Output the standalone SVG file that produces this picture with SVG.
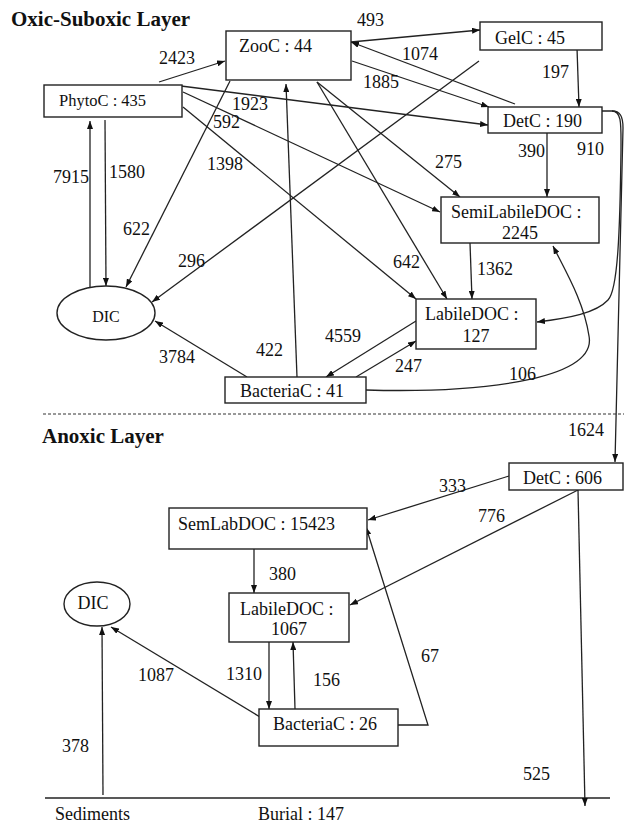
<svg xmlns="http://www.w3.org/2000/svg" width="624" height="823" viewBox="0 0 624 823">
<style>
text{font-family:"Liberation Serif","Times New Roman",serif;font-size:18px;fill:#111}
.t{font-weight:bold;font-size:21px}
.n rect,.n ellipse{fill:#fff;stroke:#222;stroke-width:1.4}
#edges path,#edges line{fill:none;stroke:#222;stroke-width:1.3}
.a{marker-end:url(#ah)}
.m{text-anchor:middle}
</style>
<defs>
<marker id="ah" viewBox="0 0 8 6" refX="8" refY="3" markerWidth="8" markerHeight="6" orient="auto" markerUnits="userSpaceOnUse"><path d="M0,0 L8,3 L0,6 z" fill="#111"/></marker>
</defs>
<rect width="624" height="823" fill="#fff"/>
<text class="t" x="11" y="26">Oxic-Suboxic Layer</text>
<text class="t" x="42" y="443">Anoxic Layer</text>
<line x1="43" y1="414" x2="624" y2="414" stroke="#333" stroke-width="1" stroke-dasharray="3,2"/>
<line x1="45" y1="798" x2="610" y2="798" stroke="#222" stroke-width="1.3"/>
<text x="55" y="820">Sediments</text>
<text x="258" y="820">Burial :  147</text>
<g id="edges">
<path class="a" d="M159,82 L225,61"/>
<path class="a" d="M351,42 L480,30"/>
<path class="a" d="M515,104 L351,42"/>
<path class="a" d="M352,61 L489,107"/>
<path class="a" d="M577,48 L579,107"/>
<path class="a" d="M181,86 L488,125"/>
<path class="a" d="M183,92 L440,212"/>
<path class="a" d="M183,107 L416,299"/>
<path class="a" d="M230,81 L126,287"/>
<path class="a" d="M479,61 L152,302"/>
<path class="a" d="M317,82 L460,197"/>
<path class="a" d="M317,82 L447,299"/>
<path class="a" d="M297,377 L286,84"/>
<path class="a" d="M247,377 L155,321"/>
<path class="a" d="M416,321 L326,377"/>
<path class="a" d="M356,377 L416,341"/>
<path class="a" d="M470,243 L472,299"/>
<path class="a" d="M547,133 L547,197"/>
<path class="a" d="M366,390 C470,393 598,382 589,336 C584,302 566,272 553,246"/>
<path class="a" d="M602,111 L612,111 C622,111 621,125 621,150 C620,230 618,290 608,300 C596,313 570,318 537,322"/>
<path class="a" d="M612,111 C620,111 623,116 623,128 L615,462"/>
<path class="a" d="M90,287 L90,121"/>
<path class="a" d="M105,120 L106,286"/>
<path class="a" d="M509,476 L368,520"/>
<path class="a" d="M578,490 L350,605"/>
<path class="a" d="M578,490 L585,806"/>
<path class="a" d="M254,549 L254,593"/>
<path class="a" d="M269,642 L269,709"/>
<path class="a" d="M295,709 L293,642"/>
<path class="a" d="M260,717 L111,627"/>
<path class="a" d="M398,725 L428,725 L366,527"/>
<path class="a" d="M103,795 L102,627"/>
</g>
<g id="labels">
<text x="159" y="64">2423</text>
<text x="357" y="26">493</text>
<text x="402" y="60">1074</text>
<text x="363" y="88">1885</text>
<text x="542" y="78">197</text>
<text x="232" y="110">1923</text>
<text x="213" y="128">592</text>
<text x="207" y="170">1398</text>
<text x="435" y="168">275</text>
<text x="518" y="157">390</text>
<text x="577" y="155">910</text>
<text x="53" y="183">7915</text>
<text x="109" y="178">1580</text>
<text x="123" y="235">622</text>
<text x="178" y="267">296</text>
<text x="393" y="268">642</text>
<text x="477" y="275">1362</text>
<text x="325" y="342">4559</text>
<text x="256" y="356">422</text>
<text x="159" y="363">3784</text>
<text x="395" y="372">247</text>
<text x="509" y="380">106</text>
<text x="568" y="436">1624</text>
<text x="439" y="492">333</text>
<text x="478" y="522">776</text>
<text x="269" y="580">380</text>
<text x="421" y="662">67</text>
<text x="226" y="680">1310</text>
<text x="138" y="681">1087</text>
<text x="313" y="686">156</text>
<text x="62" y="752">378</text>
<text x="523" y="780">525</text>
</g>
<g id="ZooC" class="n"><rect x="226" y="31" width="125" height="49"/><text x="239" y="52">ZooC : 44</text></g>
<g id="PhytoC" class="n"><rect x="44" y="85" width="138" height="32"/><text x="59" y="106" style="font-size:16.5px">PhytoC : 435</text></g>
<g id="GelC" class="n"><rect x="480" y="22" width="122" height="28"/><text x="495" y="44">GelC : 45</text></g>
<g id="DetC" class="n"><rect x="488" y="107" width="114" height="26"/><text x="503" y="127">DetC : 190</text></g>
<g id="SemiLabileDOC" class="n"><rect x="441" y="197" width="158" height="46"/><text x="451" y="218">SemiLabileDOC :</text><text class="m" x="520" y="239">2245</text></g>
<g id="LabileDOC" class="n"><rect x="416" y="299" width="120" height="50"/><text x="425" y="320">LabileDOC :</text><text class="m" x="476" y="342">127</text></g>
<g id="BacteriaC" class="n"><rect x="225" y="377" width="141" height="26"/><text x="240" y="397">BacteriaC : 41</text></g>
<g id="DIC" class="n"><ellipse cx="106" cy="313" rx="49" ry="27"/><text class="m" x="106" y="322" style="font-size:16px">DIC</text></g>
<g id="DetC2" class="n"><rect x="509" y="463" width="114" height="27"/><text x="523" y="484">DetC : 606</text></g>
<g id="SemLabDOC" class="n"><rect x="169" y="508" width="198" height="41"/><text x="178" y="530">SemLabDOC : 15423</text></g>
<g id="LabileDOC2" class="n"><rect x="229" y="593" width="120" height="49"/><text x="240" y="615">LabileDOC :</text><text class="m" x="289" y="635">1067</text></g>
<g id="BacteriaC2" class="n"><rect x="259" y="709" width="139" height="37"/><text x="273" y="730">BacteriaC : 26</text></g>
<g id="DIC2" class="n"><ellipse cx="97" cy="604" rx="33" ry="22"/><text class="m" x="93" y="609">DIC</text></g>
</svg>
